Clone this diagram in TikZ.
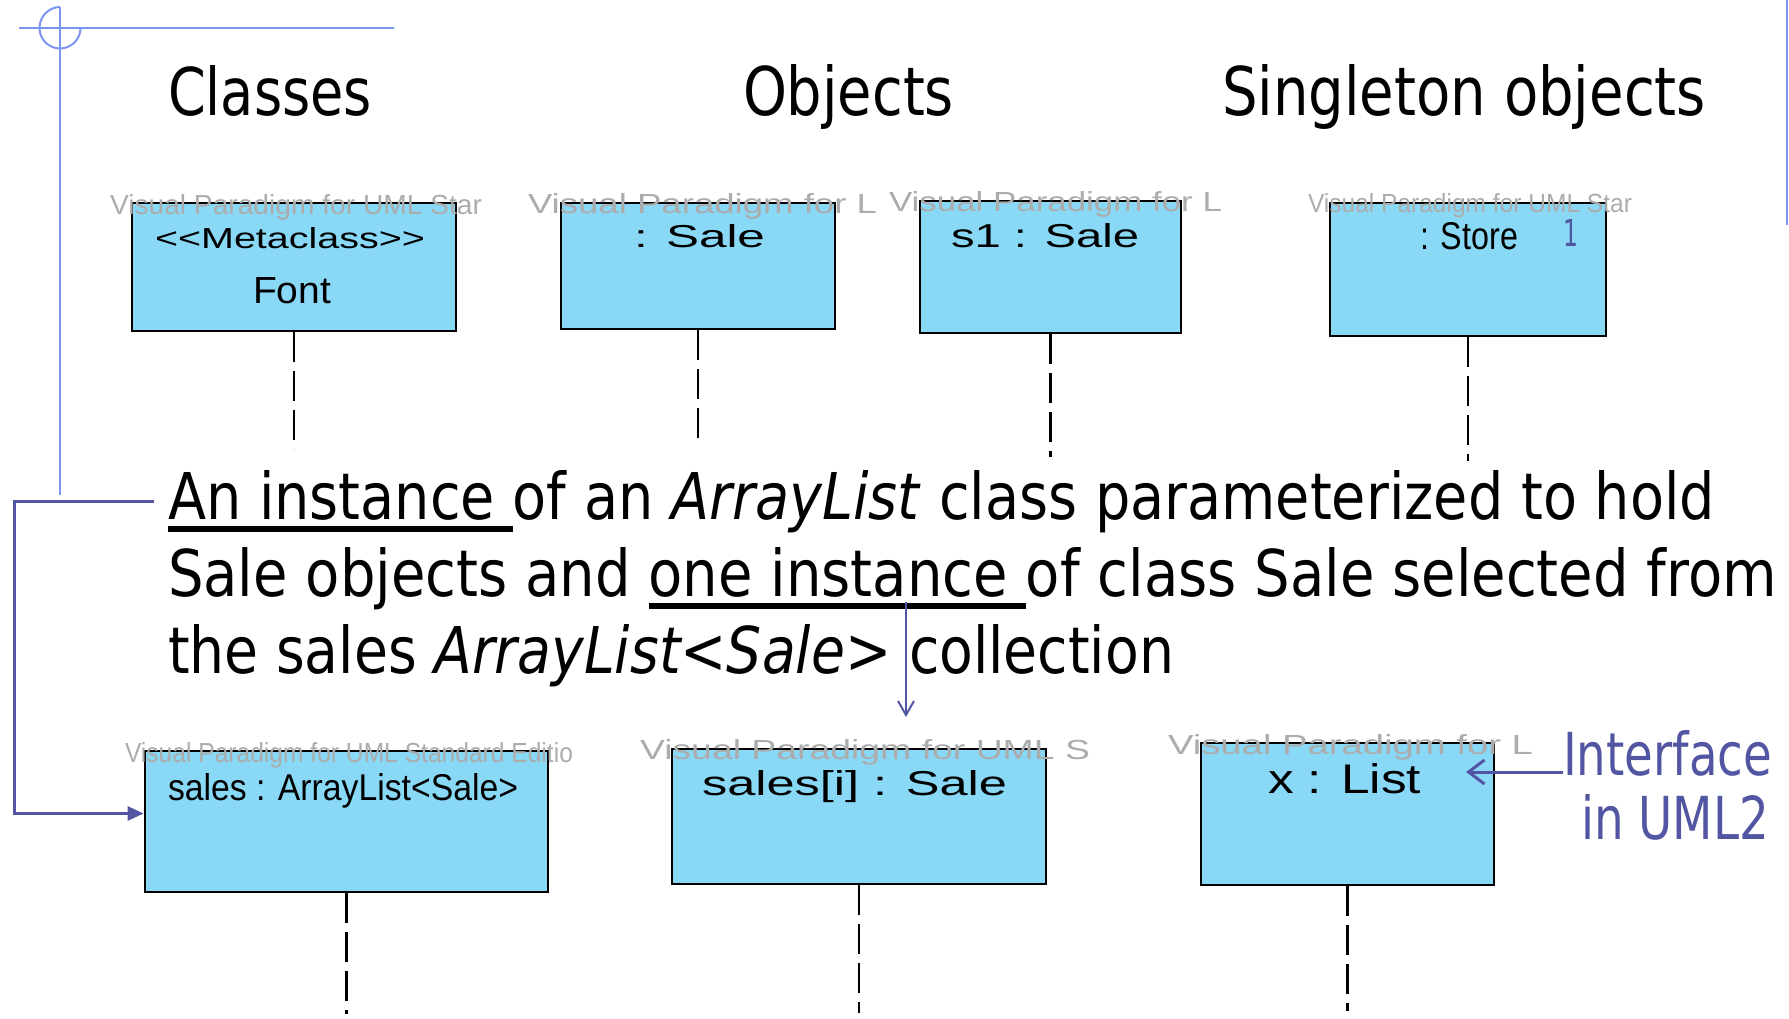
\documentclass[tikz,border=0pt]{standalone}
\usepackage{fontspec}
\setmainfont{DejaVu Sans}
\newfontfamily\arialf{Liberation Sans}
\usetikzlibrary{arrows.meta}
\definecolor{boxblue}{RGB}{136,216,246}
\definecolor{decoblue}{RGB}{122,150,240}
\definecolor{arrblue}{RGB}{82,86,162}
\definecolor{wmgray}{RGB}{172,172,172}
\newcommand\fitbox[3]{\resizebox{#1pt}{#2pt}{#3}}
\newcommand\ulx[1]{\setbox0=\hbox{#1}\rlap{\rule[-13pt]{\wd0}{6pt}}\box0}
\begin{document}
\begin{tikzpicture}[x=1pt,y=-1pt,
  umlbox/.style={draw=black, line width=2.8pt, fill=boxblue, inner sep=0pt},
  lifeline/.style={draw=black, line width=2.8pt, dash pattern=on 30pt off 9pt},
  txt/.style={anchor=base west, inner sep=0pt, outer sep=0pt},
  head/.style={txt, font=\fontsize{66pt}{70pt}\selectfont},
  para/.style={txt, font=\fontsize{64pt}{70pt}\selectfont},
  note/.style={txt, text=arrblue, font=\fontsize{60pt}{64pt}\selectfont},
  btxt/.style={txt, font=\arialf\fontsize{30pt}{32pt}\selectfont},
  wm/.style={txt, text=wmgray, font=\arialf\fontsize{26pt}{28pt}\selectfont},
  deco/.style={draw=decoblue, line width=2pt},
  bigarrow/.style={draw=arrblue, line width=3pt, -{Triangle[length=16pt,width=14pt]}},
  bigopen/.style={draw=arrblue, line width=3pt, -{Straight Barb[length=16pt,width=24pt]}},
  openarrow/.style={draw=arrblue, line width=2pt, -{Straight Barb[length=14pt,width=16pt]}}
]
\useasboundingbox (0,0) rectangle (1789,1019);

% decoration
\draw[deco] (19,28) -- (394,28);
\draw[deco] (60,7) -- (60,495);
\draw[deco] (60,7) .. controls (48.68,7) and (39.5,16.68) .. (39.5,28)
  .. controls (39.5,39.32) and (48.68,48.5) .. (60,48.5)
  .. controls (71.32,48.5) and (80.5,39.32) .. (80.5,28);
\draw[deco] (1787,0) -- (1787,225);

% headings
\node[head] (ttl1) at (168,116) {\fitbox{204}{50}{Classes}};
\node[head] (ttl2) at (743,116) {\fitbox{211}{51}{Objects}};
\node[head] (ttl3) at (1222,116) {\fitbox{484}{51}{Singleton objects}};

% boxes
\node[umlbox, minimum width=324pt, minimum height=128pt] (b1) at (294,267) {};
\node[umlbox, minimum width=274pt, minimum height=126pt] (b2) at (698,266) {};
\node[umlbox, minimum width=261pt, minimum height=132pt] (b3) at (1050.5,267) {};
\node[umlbox, minimum width=276pt, minimum height=133pt] (b4) at (1468,269.5) {};
\node[umlbox, minimum width=403pt, minimum height=141pt] (b5) at (346.5,821.5) {};
\node[umlbox, minimum width=374pt, minimum height=135pt] (b6) at (859,816.5) {};
\node[umlbox, minimum width=293pt, minimum height=142pt] (b7) at (1347.5,814) {};

% watermarks
\node[wm] (wm1) at (110,215) {\fitbox{372}{20}{Visual Paradigm for UML Star}};
\node[wm] (wm2) at (528,214) {\fitbox{349}{20}{Visual Paradigm for L}};
\node[wm] (wm3) at (889,212) {\fitbox{333}{20}{Visual Paradigm for L}};
\node[wm] (wm4) at (1308,213) {\fitbox{324}{19}{Visual Paradigm for UML Star}};
\node[wm] (wm5) at (125,762) {\fitbox{448}{20}{Visual Paradigm for UML Standard Editio}};
\node[wm] (wm6) at (640,759) {\fitbox{450}{20}{Visual Paradigm for UML S}};
\node[wm] (wm7) at (1168,754) {\fitbox{365}{20}{Visual Paradigm for L}};

% box texts
\node[btxt] (bt1a) at (155,249) {\fitbox{270}{21}{<<Metaclass>>}};
\node[btxt] (bt1b) at (253,304) {\fitbox{78}{26}{Font}};
\node[btxt] (bt2) at (634,248) {\fitbox{131}{23}{: Sale}};
\node[btxt] (bt3) at (951,248) {\fitbox{188}{24}{s1 : Sale}};
\node[btxt] (bt4) at (1420,250) {\fitbox{98}{27}{: Store}};
\node[note] (one) at (1563,247) {\fitbox{15}{27}{1}};
\node[btxt] (bt5) at (168,800) {\fitbox{350}{27}{sales : ArrayList<Sale>}};
\node[btxt] (bt6) at (702,795) {\fitbox{305}{25}{sales[i] : Sale}};
\node[btxt] (bt7) at (1268,793) {\fitbox{153}{30}{x : List}};

% lifelines
\draw[lifeline] (b1.south) -- ++(0,117);
\draw[lifeline] (b2.south) -- ++(0,114);
\draw[lifeline] (b3.south) -- ++(0,123);
\draw[lifeline] (b4.south) -- ++(0,124);
\draw[lifeline] (b5.south) -- ++(0,121);
\draw[lifeline] (b6.south) -- ++(0,128);
\draw[lifeline] (b7.south) -- ++(0,125);

% paragraph
\node[para] (p1) at (168,519) {\fitbox{1547}{49}{\ulx{An instance }of an \textit{ArrayList} class parameterized to hold}};
\node[para] (p2) at (168,596) {\fitbox{1609}{49}{Sale objects and \ulx{one instance }of class Sale selected from}};
\node[para] (p3) at (168,673) {\fitbox{1006}{49}{the sales \textit{ArrayList<Sale>} collection}};

% interface note
\node[note] (if1) at (1563,775) {\fitbox{209}{45}{Interface}};
\node[note] (if2) at (1581,839) {\fitbox{188}{45}{in UML2}};

% connectors
\coordinate (brk) at (154,501);
\draw[bigarrow] (brk) -- ++(-140,0) |- ([yshift=8pt]b5.west);
\coordinate (oiS) at (906,602);
\coordinate (oiE) at (906,717);
\draw[openarrow] (oiS) -- (oiE);
\coordinate (ifE) at (1466,772);
\draw[bigopen] ([yshift=3pt]if1.base west) -- (ifE);
\end{tikzpicture}
\end{document}
